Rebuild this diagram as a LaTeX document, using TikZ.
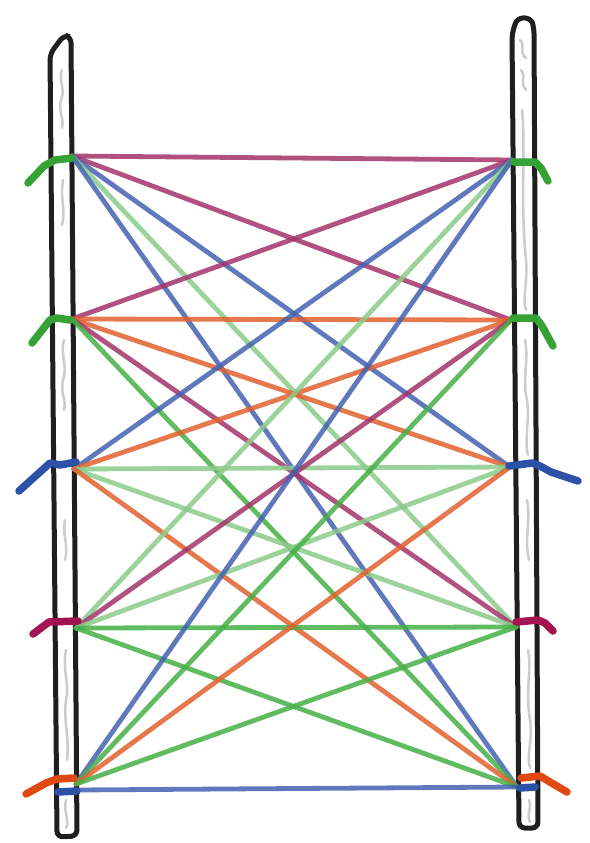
\documentclass[tikz,border=0pt]{standalone}
\usetikzlibrary{calc}
\definecolor{cmag}{HTML}{A33369}
\definecolor{cblu}{HTML}{4462B0}
\definecolor{cora}{HTML}{E2602E}
\definecolor{cgrn}{HTML}{45B045}
\definecolor{clgr}{HTML}{8ACB8A}
\definecolor{mgrn}{HTML}{34A334}
\definecolor{mblu}{HTML}{2C52A8}
\definecolor{mmag}{HTML}{A3134F}
\definecolor{mora}{HTML}{E04A12}
\tikzset{
  bar/.style={draw=black!88, line width=5pt, rounded corners=6pt, fill=white},
  scrib/.style={draw=black!20, line width=2.5pt, line cap=round, line join=round},
  link/.style={line width=4.8pt, line cap=round, opacity=0.85},
  lmag/.style={link, draw=cmag},
  lblu/.style={link, draw=cblu},
  lora/.style={link, draw=cora},
  lgrn/.style={link, draw=cgrn},
  llgr/.style={link, draw=clgr},
  tick/.style={line width=7.5pt, line cap=round, line join=round}
}
\begin{document}
\begin{tikzpicture}[x=1pt,y=-1pt]
\useasboundingbox (0,0) rectangle (589,843);
% bars
\draw[bar] (50,54) -- (64,35) -- (71,37) -- (77,836) -- (57,837) -- cycle;
\draw[bar] (512,34) -- (517,18) -- (531,18) -- (534,28) -- (538,828) -- (519,828) -- cycle;
% faint scribbles inside bars
\draw[scrib] (62,70) .. controls (58,80) and (66,90) .. (61,100) .. controls (58,110) and (64,118) .. (62,128);
\draw[scrib] (63,180) .. controls (60,200) and (66,210) .. (62,225);
\draw[scrib] (64,340) .. controls (60,355) and (68,365) .. (63,380) .. controls (60,395) and (67,400) .. (64,410);
\draw[scrib] (65,520) .. controls (62,535) and (69,545) .. (65,560);
\draw[scrib] (66,650) .. controls (62,670) and (70,685) .. (66,700) .. controls (63,720) and (70,740) .. (67,760);
\draw[scrib] (66,800) .. controls (63,812) and (70,820) .. (66,828);
\draw[scrib] (520,40) .. controls (526,45) and (518,52) .. (526,58);
\draw[scrib] (521,70) .. controls (527,78) and (519,82) .. (526,90);
\draw[scrib] (522,110) .. controls (526,150) and (520,200) .. (526,260) .. controls (528,280) and (522,300) .. (526,310);
\draw[scrib] (525,340) .. controls (529,360) and (522,380) .. (527,400) .. controls (530,420) and (524,440) .. (528,455);
\draw[scrib] (527,500) .. controls (531,520) and (524,540) .. (529,560);
\draw[scrib] (528,650) .. controls (532,670) and (525,690) .. (530,720) .. controls (533,740) and (526,755) .. (530,768);
\draw[scrib] (529,800) .. controls (532,810) and (526,815) .. (530,822);
% endpoints
\coordinate (L1) at (72,156);
\coordinate (L2) at (72,319);
\coordinate (L3) at (74,469);
\coordinate (L4) at (76,628);
\coordinate (L5) at (76,784);
\coordinate (R1) at (512,160);
\coordinate (R2) at (511,320);
\coordinate (R3) at (510,467);
\coordinate (R4) at (516,627);
\coordinate (R5) at (517,787);
\coordinate (L5b) at (76,790);
% connections
\draw[lmag] (L1) -- (R1);
\draw[lmag] (L1) -- (R2);
\draw[lblu] (L1) -- (R3);
\draw[llgr] (L1) -- (R4);
\draw[lblu] (L1) -- (R5);
\draw[lmag] (L2) -- (R1);
\draw[lora] (L2) -- (R2);
\draw[lora] (L2) -- (R3);
\draw[lmag] (L2) -- (R4);
\draw[lgrn] (L2) -- (R5);
\draw[lblu] (L3) -- (R1);
\draw[lora] (L3) -- (R2);
\draw[llgr] (L3) -- (R3);
\draw[llgr] (L3) -- (R4);
\draw[lora] (L3) -- (R5);
\draw[llgr] (L4) -- (R1);
\draw[lmag] (L4) -- (R2);
\draw[llgr] (L4) -- (R3);
\draw[lgrn] (L4) -- (R4);
\draw[lgrn] (L4) -- (R5);
\draw[lblu] (L5) -- (R1);
\draw[lgrn] (L5) -- (R2);
\draw[lora] (L5) -- (R3);
\draw[lgrn] (L5) -- (R4);
\draw[lblu] (L5b) -- (R5);
% marks left
\draw[tick, mgrn] (28,183) -- (44,166) -- (55,160) -- (72,158);
\draw[tick, mgrn] (32,343) -- (50,320) -- (57,318) -- (70,320);
\draw[tick, mblu] (19,491) -- (50,463) -- (60,465) -- (76,462);
\draw[tick, mmag] (33,634) -- (49,622) -- (78,621);
\draw[tick, mora] (26,794) -- (46,783) -- (57,779) -- (74,778);
\draw[tick, mblu] (58,792) -- (77,791);
% marks right
\draw[tick, mgrn] (514,162) -- (535,162) -- (541,168) -- (548,181);
\draw[tick, mgrn] (513,318) -- (536,318) -- (542,326) -- (553,346);
\draw[tick, mblu] (509,466) -- (532,463) -- (540,466) -- (551,472) -- (578,481);
\draw[tick, mmag] (516,622) -- (538,620) -- (545,623) -- (553,631);
\draw[tick, mora] (521,778) -- (540,776) -- (550,782) -- (567,792);
\draw[tick, mblu] (520,788) -- (535,787);
\end{tikzpicture}
\end{document}
